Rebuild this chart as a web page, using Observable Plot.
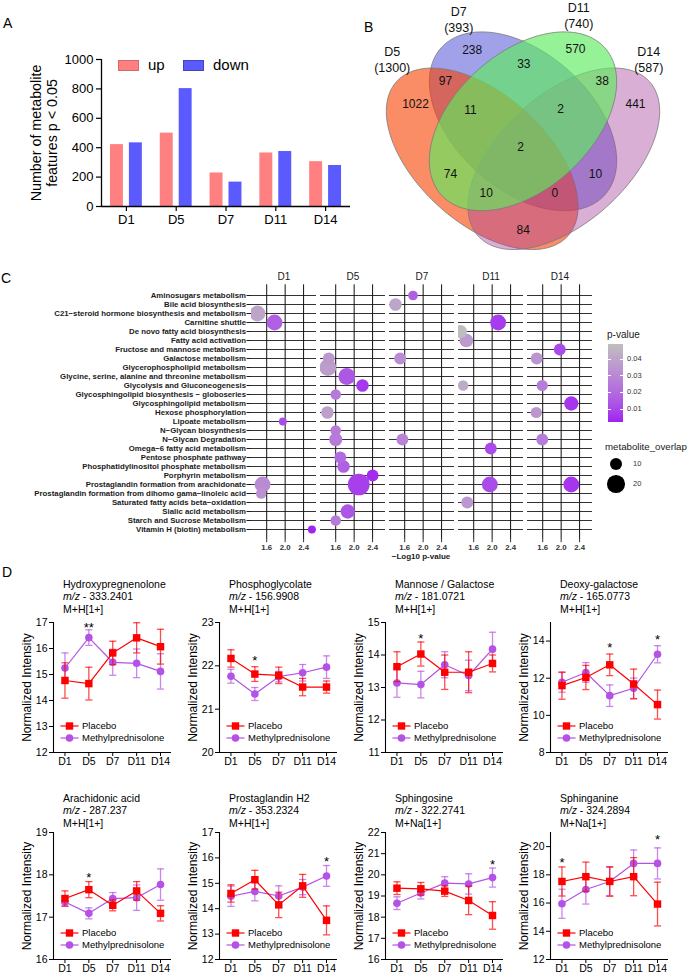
<!DOCTYPE html>
<html><head><meta charset="utf-8">
<script src="https://cdn.jsdelivr.net/npm/d3@7"></script>
<script src="https://cdn.jsdelivr.net/npm/@observablehq/plot@0.6"></script>
<style>
body{margin:0;background:#fff;}
#fig{position:relative;width:691px;height:978px;overflow:hidden;background:#fff;font-family:"Liberation Sans",Arial,Helvetica,sans-serif;color:#000;}
#fig div{white-space:nowrap;}
</style></head><body><div id="fig"></div>
<script>
// ---------------- DATA ----------------
// Panel A
const days = ["D1", "D5", "D7", "D11", "D14"];
const upCounts = [421, 499, 228, 364, 305];
const downCounts = [433, 802, 166, 374, 279];
const countTicks = [0, 200, 400, 600, 800, 1000];

// Panel B (Venn)
const vennSets = ["D5", "D7", "D11", "D14"];
const vennTotals = [1300, 393, 740, 587];
const vennRegionCounts = [238, 570, 97, 33, 38, 1022, 11, 2, 441, 2, 74, 10, 10, 0, 84];

// Panel C
const pathways = [
  "Aminosugars metabolism",
  "Bile acid biosynthesis",
  "C21\u2212steroid hormone biosynthesis and metabolism",
  "Carnitine shuttle",
  "De novo fatty acid biosynthesis",
  "Fatty acid activation",
  "Fructose and mannose metabolism",
  "Galactose metabolism",
  "Glycerophospholipid metabolism",
  "Glycine, serine, alanine and threonine metabolism",
  "Glycolysis and Gluconeogenesis",
  "Glycosphingolipid biosynthesis \u2212 globoseries",
  "Glycosphingolipid metabolism",
  "Hexose phosphorylation",
  "Lipoate metabolism",
  "N\u2212Glycan biosynthesis",
  "N\u2212Glycan Degradation",
  "Omega\u22126 fatty acid metabolism",
  "Pentose phosphate pathway",
  "Phosphatidylinositol phosphate metabolism",
  "Porphyrin metabolism",
  "Prostaglandin formation from arachidonate",
  "Prostaglandin formation from dihomo gama\u2212linoleic acid",
  "Saturated fatty acids beta\u2212oxidation",
  "Sialic acid metabolism",
  "Starch and Sucrose Metabolism",
  "Vitamin H (biotin) metabolism"
];
// [pathway index, -log10 p-value, metabolite overlap]
const enrichD1 = [[2, 1.40, 16], [3, 1.77, 16], [14, 1.95, 4], [21, 1.51, 16], [22, 1.48, 7], [26, 2.58, 4]];
const enrichD5 = [[7, 1.45, 9], [8, 1.43, 18], [9, 1.84, 18], [10, 2.18, 10], [11, 1.60, 7], [13, 1.42, 10],
  [15, 1.60, 7], [16, 1.60, 11], [18, 1.70, 9], [19, 1.77, 10], [20, 2.40, 9], [21, 2.10, 30], [24, 1.86, 13], [25, 1.60, 7]];
const enrichD7 = [[0, 1.78, 6], [1, 1.40, 10], [7, 1.50, 9], [16, 1.55, 9]];
const enrichD11 = [[3, 2.13, 16], [4, 1.31, 11], [5, 1.44, 12], [10, 1.37, 7], [17, 1.97, 9], [21, 1.95, 16], [23, 1.46, 9]];
const enrichD14 = [[6, 1.97, 9], [7, 1.47, 9], [10, 1.59, 8], [12, 2.22, 13], [13, 1.46, 8], [16, 1.59, 9], [21, 2.22, 16]];
const logpTicks = [1.6, 2.0, 2.4];
const pTicks = [0.01, 0.02, 0.03, 0.04];
const overlapLegend = [10, 20];

// Panel D
const metNames = ["Hydroxypregnenolone", "Phosphoglycolate", "Mannose / Galactose", "Deoxy-galactose",
  "Arachidonic acid", "Prostaglandin H2", "Sphingosine", "Sphinganine"];
const metMz = ["333.2401", "156.9908", "181.0721", "165.0773", "287.237", "353.2324", "322.2741", "324.2894"];
const metIon = ["M+H[1+]", "M+H[1+]", "M+H[1+]", "M+H[1+]", "M+H[1+]", "M+H[1+]", "M+Na[1+]", "M+Na[1+]"];
const yDomains = [[12, 17], [20, 23], [11, 15], [8, 15], [16, 19], [12, 17], [16, 22], [12, 21]];
const yTicks = [[12, 13, 14, 15, 16, 17], [20, 21, 22, 23], [11, 12, 13, 14, 15], [8, 10, 12, 14],
  [16, 17, 18, 19], [12, 13, 14, 15, 16, 17], [16, 17, 18, 19, 20, 21, 22], [12, 14, 16, 18, 20]];
const placeboMean = [
  [14.77, 14.65, 15.83, 16.41, 16.07],
  [22.17, 21.81, 21.78, 21.51, 21.51],
  [13.64, 14.03, 13.47, 13.47, 13.74],
  [11.60, 12.04, 12.72, 11.69, 10.58],
  [17.44, 17.65, 17.28, 17.62, 17.09],
  [14.60, 15.14, 14.15, 14.90, 13.54],
  [19.37, 19.34, 19.23, 18.79, 18.08],
  [17.53, 17.87, 17.53, 17.87, 15.93]];
const placeboSem = [
  [0.68, 0.63, 0.45, 0.58, 0.67],
  [0.20, 0.17, 0.19, 0.20, 0.14],
  [0.46, 0.37, 0.53, 0.63, 0.26],
  [0.73, 0.65, 0.58, 0.80, 0.78],
  [0.18, 0.19, 0.13, 0.22, 0.18],
  [0.34, 0.37, 0.50, 0.45, 0.57],
  [0.30, 0.30, 0.25, 0.67, 0.65],
  [1.03, 1.03, 1.05, 1.35, 1.55]];
const mpMean = [
  [15.25, 16.42, 15.47, 15.43, 15.12],
  [21.76, 21.35, 21.75, 21.84, 21.97],
  [13.14, 13.09, 13.70, 13.37, 14.18],
  [11.78, 12.31, 11.06, 11.46, 13.29],
  [17.36, 17.09, 17.44, 17.46, 17.77],
  [14.49, 14.68, 14.50, 14.85, 15.29],
  [18.66, 19.14, 19.61, 19.57, 19.87],
  [15.95, 16.96, 17.53, 18.81, 18.81]];
const mpSem = [
  [0.58, 0.30, 0.50, 0.55, 0.68],
  [0.16, 0.15, 0.12, 0.19, 0.26],
  [0.44, 0.41, 0.40, 0.47, 0.52],
  [0.53, 0.53, 0.58, 0.55, 0.46],
  [0.10, 0.13, 0.14, 0.30, 0.37],
  [0.40, 0.37, 0.40, 0.30, 0.41],
  [0.30, 0.28, 0.30, 0.48, 0.45],
  [1.03, 1.03, 1.00, 0.95, 1.10]];
// [chart, day index, y value, label]
const significance = [[0, 1, 16.94, "**"], [1, 1, 22.2, "*"], [2, 1, 14.59, "*"], [3, 2, 13.79, "*"], [3, 4, 14.27, "*"],
  [4, 1, 18.0, "*"], [5, 4, 15.99, "*"], [6, 4, 20.65, "*"], [7, 0, 19.06, "*"], [7, 4, 20.73, "*"]];
const groups = ["Placebo", "Methylprednisolone"];

// ---------------- LAYOUT / STYLE ----------------
const FONT = '"Liberation Sans", Arial, Helvetica, sans-serif';
const UP = "#ff8080", DOWN = "#5a5aff";
const PL = "#ff0000", MP = "#b452e6";
const fig = document.getElementById("fig");
function put(node, left, top, w) {
  const d = document.createElement("div");
  d.style.cssText = `position:absolute;left:${left}px;top:${top}px;` + (w ? `width:${w}px;` : "");
  d.appendChild(node); fig.appendChild(d); return d;
}
function txt(html, left, top, css) {
  const d = document.createElement("div");
  d.style.cssText = `position:absolute;left:${left}px;top:${top}px;` + (css || "");
  d.innerHTML = html; fig.appendChild(d); return d;
}

// panel letters
txt("A", 3, 14, "font-size:14px;line-height:18px");
txt("B", 364, 18, "font-size:14px;line-height:18px");
txt("C", 1, 269, "font-size:14px;line-height:18px");
txt("D", 2, 563, "font-size:14px;line-height:18px");

// ---------------- PANEL A ----------------
const aUp = days.map((d, i) => ({i, v: upCounts[i]}));
const aDown = days.map((d, i) => ({i, v: downCounts[i]}));
const plotA = Plot.plot({
  width: 355, height: 236,
  marginLeft: 101, marginRight: 5, marginTop: 59, marginBottom: 30,
  style: {fontFamily: FONT, background: "none", color: "#000", overflow: "visible"},
  x: {domain: [-0.5, 4.5]},
  y: {domain: [0, 1000]},
  marks: [
    Plot.rect(aUp, {x1: d => d.i - 0.32, x2: d => d.i - 0.06, y1: 0, y2: "v", fill: UP}),
    Plot.rect(aDown, {x1: d => d.i + 0.06, x2: d => d.i + 0.32, y1: 0, y2: "v", fill: DOWN}),
    Plot.ruleX([-0.5], {stroke: "#000", strokeWidth: 1.3}),
    Plot.ruleY([0], {stroke: "#000", strokeWidth: 1.3}),
    Plot.axisY({ticks: countTicks, tickFormat: d => String(d), tickSize: 5, tickPadding: 3, fontSize: 13, label: null, strokeWidth: 1.2}),
    Plot.axisX({ticks: [0, 1, 2, 3, 4], tickFormat: i => days[i], tickSize: 5, tickPadding: 3, fontSize: 13, label: null, strokeWidth: 1.2}),
    Plot.text(["Number of metabolite\nfeatures p < 0.05"], {frameAnchor: "left", textAnchor: "middle", lineAnchor: "middle",
      rotate: -90, dx: -58, fontSize: 14.3, lineHeight: 1.15})
  ]
});
put(plotA, 0, 0, 355);
// legend A
txt("", 118, 60, `width:19px;height:9px;background:${UP};border:1px solid #d46a6a;`);
txt("up", 148, 55, "font-size:15px;line-height:20px");
txt("", 183, 60, `width:19px;height:9px;background:${DOWN};border:1px solid #4444bb;`);
txt("down", 213, 55, "font-size:15px;line-height:20px");

// ---------------- PANEL B (Venn) ----------------
// ellipse geometry (page px): cx, cy, semi-major, semi-minor, angle (deg, screen)
const vennGeom = {D5: [481.7, 158.3, 115.3, 64.3, 42], D14: [563.3, 158.3, 115.3, 64.3, -42],
  D7: [522.5, 120.8, 110, 68.3, 42], D11: [522.5, 120.8, 110, 68.3, -42]};
const vennStyle = {D7: ["#1414c8", 0.4], D5: ["#f73f00", 0.6], D14: ["#a8409a", 0.42], D11: ["#5eeb5e", 0.65]};
const regionPos = [[471.7, 49.3], [575, 48.3], [445, 80.7], [523.3, 63.3], [601.7, 80.7], [415, 103.3], [470, 109.3],
  [560, 108.3], [635, 103.3], [520, 146.7], [450, 173.3], [595, 173.3], [485.7, 192.7], [554.3, 192.7], [522.7, 230]];
const setLabelPos = {D5: [391.7, 58.3], D7: [458.3, 18], D11: [578.3, 14], D14: [648.3, 58.3]};
function ellipsePts(g) {
  const [cx, cy, a, b, ang] = g;
  const t0 = ang * Math.PI / 180, ux = Math.cos(t0), uy = Math.sin(t0);
  const pts = [];
  for (let k = 0; k < 200; k++) {
    const t = 2 * Math.PI * k / 200, ca = a * Math.cos(t), sb = b * Math.sin(t);
    pts.push({x: cx + ca * ux - sb * uy, y: cy + ca * uy + sb * ux});
  }
  return pts;
}
const drawOrder = ["D7", "D5", "D14", "D11"];
const plotB = Plot.plot({
  width: 341, height: 262, margin: 0,
  style: {fontFamily: FONT, background: "none", color: "#000", overflow: "visible"},
  x: {domain: [350, 691], range: [0, 341], axis: null},
  y: {domain: [0, 262], range: [0, 262], axis: null},
  marks: [
    ...drawOrder.map(s => Plot.line(ellipsePts(vennGeom[s]), {x: "x", y: "y", curve: "linear-closed",
      fill: vennStyle[s][0], fillOpacity: vennStyle[s][1], stroke: "#7a7a7a", strokeWidth: 0.8})),
    Plot.text(vennRegionCounts.map((c, k) => ({c, x: regionPos[k][0], y: regionPos[k][1]})),
      {x: "x", y: "y", text: d => String(d.c), fontSize: 12, fill: "#111"}),
    Plot.text(vennSets.map((s, k) => ({s, t: vennTotals[k], x: setLabelPos[s][0], y: setLabelPos[s][1]})),
      {x: "x", y: "y", text: d => `${d.s}\n(${d.t})`, fontSize: 12.5, lineHeight: 1.33, fill: "#111"})
  ]
});
put(plotB, 350, 0, 341);

// ---------------- PANEL C ----------------
const enrichByDay = {D1: enrichD1, D5: enrichD5, D7: enrichD7, D11: enrichD11, D14: enrichD14};
const dotsC = days.flatMap(day => enrichByDay[day].map(([pi, logp, overlap]) => ({day, pathway: pathways[pi], logp, overlap})));
const pDomain = [0.0022, 0.049];
const colorOpts = {type: "linear", domain: pDomain, range: ["#A020F0", "#BEBEBE"], interpolate: "lab"};
const rOpts = {type: "sqrt", domain: [0, 30], range: [0, 10.85]};
const plotC = Plot.plot({
  width: 600, height: 290,
  marginLeft: 250, marginRight: 8, marginTop: 14.3, marginBottom: 20.3,
  style: {fontFamily: FONT, background: "none", color: "#1a1a1a", overflow: "visible"},
  fx: {domain: days, paddingInner: 0.0615, paddingOuter: 0, label: null},
  x: {domain: [1.27, 2.68]},
  y: {type: "point", domain: pathways, padding: 0.5},
  r: rOpts,
  color: colorOpts,
  marks: [
    Plot.ruleY(pathways, {stroke: "#333", strokeWidth: 1.1}),
    Plot.ruleX(logpTicks, {stroke: "#111", strokeWidth: 1}),
    Plot.dot(dotsC, {fx: "day", x: "logp", y: "pathway", r: "overlap", fill: d => Math.pow(10, -d.logp), clip: true}),
    Plot.axisY({tickSize: 4.5, tickPadding: 1, fontSize: 7.8, fontWeight: "bold", label: null, color: "#1a1a1a"}),
    Plot.axisX({ticks: logpTicks, tickFormat: d3.format(".1f"), tickSize: 2.5, tickPadding: 1.5, fontSize: 7.8, fontWeight: "bold", label: null, color: "#333"}),
    Plot.axisFx({anchor: "top", tickSize: 0, tickPadding: 5, fontSize: 10, label: null})
  ]
});
put(plotC, 0, 270, 600);
txt("\u2212Log10 p-value", 371, 551, "width:100px;text-align:center;font-size:8px;font-weight:bold;line-height:11px;color:#1a1a1a");

// legend C: p-value colour bar
const cscale = Plot.scale({color: colorOpts});
const barTop = 344, barH = 78;
const stops = d3.range(0, 1.0001, 0.1).map(t => `${cscale.apply(pDomain[1] - t * (pDomain[1] - pDomain[0]))} ${Math.round(t * 100)}%`);
txt("p-value", 607, 328, "font-size:10px;line-height:13px;color:#1a1a1a");
txt("", 608, barTop, `width:15px;height:${barH}px;background:linear-gradient(to bottom, ${stops.join(",")});`);
pTicks.forEach(v => {
  const y = barTop + (pDomain[1] - v) / (pDomain[1] - pDomain[0]) * barH;
  txt("", 608, y - 0.5, "width:3px;height:1px;background:#fff;");
  txt("", 620, y - 0.5, "width:3px;height:1px;background:#fff;");
  txt(String(v), 627, y - 5, "font-size:7.5px;line-height:10px;color:#333");
});
// legend C: overlap sizes
const rscale = Plot.scale({r: rOpts});
txt("metabolite_overlap", 605, 440, "font-size:9.7px;line-height:13px;color:#1a1a1a");
overlapLegend.forEach((v, k) => {
  const cy = 464 + k * 20, r = rscale.apply(v);
  txt("", 616 - r, cy - r, `width:${2 * r}px;height:${2 * r}px;border-radius:50%;background:#000;`);
  txt(String(v), 633, cy - 5, "font-size:7.5px;line-height:10px;color:#333");
});

// ---------------- PANEL D ----------------
const colAxis = [53, 219, 385, 550];
const rowGeom = [{top: 612, mt: 10, fh: 130, mb: 22, titleTop: 578}, {top: 822, mt: 10, fh: 127, mb: 19, titleTop: 792}];
function rowsOf(mean, sem) { return mean.map((v, i) => ({i, v, lo: v - sem[i], hi: v + sem[i]})); }
function errMarks(rows, color) {
  const cap = 0.15, o = {stroke: color, strokeWidth: 1.3, strokeOpacity: 0.7};
  return [
    Plot.ruleX(rows, {x: "i", y1: "lo", y2: "hi", ...o}),
    Plot.link(rows, {x1: d => d.i - cap, x2: d => d.i + cap, y1: "hi", y2: "hi", ...o}),
    Plot.link(rows, {x1: d => d.i - cap, x2: d => d.i + cap, y1: "lo", y2: "lo", ...o})
  ];
}
metNames.forEach((name, k) => {
  const col = k % 4, row = Math.floor(k / 4), g = rowGeom[row], ax = colAxis[col];
  const pl = rowsOf(placeboMean[k], placeboSem[k]);
  const mp = rowsOf(mpMean[k], mpSem[k]);
  const stars = significance.filter(s => s[0] === k).map(s => ({i: s[1], y: s[2], t: s[3]}));
  const p = Plot.plot({
    width: 176, height: g.mt + g.fh + g.mb,
    marginLeft: 53, marginRight: 5, marginTop: g.mt, marginBottom: g.mb,
    style: {fontFamily: FONT, background: "none", color: "#000", overflow: "visible"},
    x: {domain: [-0.48, 4.46]},
    y: {domain: yDomains[k]},
    marks: [
      ...errMarks(mp, MP),
      Plot.line(mp, {x: "i", y: "v", stroke: MP, strokeWidth: 1.2}),
      Plot.dot(mp, {x: "i", y: "v", r: 3.8, fill: MP, symbol: "circle"}),
      ...errMarks(pl, PL),
      Plot.line(pl, {x: "i", y: "v", stroke: PL, strokeWidth: 1.2}),
      Plot.dot(pl, {x: "i", y: "v", r: 4.2, fill: PL, symbol: "square"}),
      Plot.text(stars, {x: "i", y: "y", text: "t", fontSize: 13, dy: 3.3}),
      Plot.ruleX([-0.48], {stroke: "#000", strokeWidth: 1.1}),
      Plot.ruleY([yDomains[k][0]], {stroke: "#000", strokeWidth: 1.1}),
      Plot.axisY({ticks: yTicks[k], tickFormat: d => String(d), tickSize: 4, tickPadding: 2, fontSize: 10.5, label: null}),
      Plot.axisX({ticks: [0, 1, 2, 3, 4], tickFormat: i => days[i], tickSize: 4, tickPadding: 1.5, fontSize: 10.5, label: null}),
      Plot.text(["Normalized Intensity"], {frameAnchor: "left", textAnchor: "middle", lineAnchor: "middle", rotate: -90, dx: -26.5, fontSize: 12})
    ]
  });
  put(p, ax - 53, g.top, 176);
  // title
  txt(`${name}<br><i>m/z</i> - ${metMz[k]}<br>${metIon[k]}`, ax + 10, g.titleTop, "font-size:10.5px;line-height:12.4px");
  // legend
  const bottom = g.top + g.mt + g.fh;
  groups.forEach((lab, j) => {
    const cy = bottom - (j === 0 ? 25.6 : 14);
    const color = j === 0 ? PL : MP;
    const marker = j === 0
      ? `<rect x="5.8" y="1.3" width="7.4" height="7.4" fill="${color}"/>`
      : `<circle cx="9.5" cy="5" r="3.8" fill="${color}"/>`;
    txt(`<svg width="19" height="10" style="display:block"><line x1="0.5" x2="18.5" y1="5" y2="5" stroke="${color}" stroke-width="1.2"/>${marker}</svg>`,
      ax + 7, cy - 5, "width:19px;height:10px;");
    txt(lab, ax + 29, cy - 6, "font-size:9.5px;line-height:12px");
  });
});
</script></body></html>
